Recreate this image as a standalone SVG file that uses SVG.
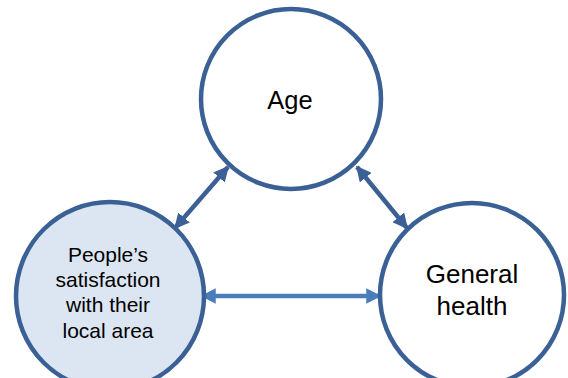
<svg xmlns="http://www.w3.org/2000/svg" width="568" height="378" viewBox="0 0 568 378">
<style>
.node{stroke:#3A6095;stroke-width:4.5}
.t{font-family:"Liberation Sans",Arial,sans-serif;fill:#000;text-anchor:middle}
.c{stroke-width:4.5;fill:none}
</style>
<defs>
<marker id="ad" viewBox="0 0 10 10" refX="9" refY="5" markerWidth="3.4" markerHeight="3.4" orient="auto-start-reverse" markerUnits="strokeWidth"><path d="M0,0 L10,5 L0,10 z" fill="#3A6095"/></marker>
<marker id="al" viewBox="0 0 10 10" refX="9" refY="5" markerWidth="3.4" markerHeight="3.4" orient="auto-start-reverse" markerUnits="strokeWidth"><path d="M0,0 L10,5 L0,10 z" fill="#4A7EBB"/></marker>
</defs>
<rect width="568" height="378" fill="#fff"/>
<g id="connectors">
<line class="c" x1="175" y1="228" x2="228" y2="167" stroke="#3A6095" marker-start="url(#ad)" marker-end="url(#ad)"/>
<line class="c" x1="357" y1="167" x2="407" y2="228" stroke="#3A6095" marker-start="url(#ad)" marker-end="url(#ad)"/>
<line class="c" x1="202" y1="296" x2="380" y2="296" stroke="#4A7EBB" marker-start="url(#al)" marker-end="url(#al)"/>
</g>
<g id="age">
<circle class="node" cx="291" cy="99" r="90" fill="#fff"/>
<text class="t" x="290" y="109" font-size="25.5">Age</text>
</g>
<g id="satisfaction">
<circle class="node" cx="110" cy="296" r="94" fill="#DCE6F2"/>
<text class="t" font-size="21"><tspan x="108" y="262">People’s</tspan><tspan x="108" y="287">satisfaction</tspan><tspan x="108" y="312">with their</tspan><tspan x="108" y="338">local area</tspan></text>
</g>
<g id="health">
<circle class="node" cx="472" cy="295" r="92" fill="#fff"/>
<text class="t" font-size="26"><tspan x="472" y="283">General</tspan><tspan x="472" y="315">health</tspan></text>
</g>
</svg>
